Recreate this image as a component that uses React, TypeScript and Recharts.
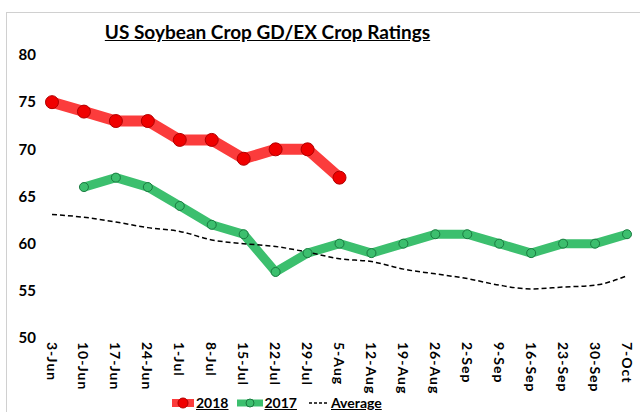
import React from "react";
import { Line, LineChart, XAxis, YAxis } from "recharts";

const weeks = [
  "3-Jun", "10-Jun", "17-Jun", "24-Jun", "1-Jul", "8-Jul", "15-Jul", "22-Jul", "29-Jul", "5-Aug",
  "12-Aug", "19-Aug", "26-Aug", "2-Sep", "9-Sep", "16-Sep", "23-Sep", "30-Sep", "7-Oct",
];
const ratings2018 = [75, 74, 73, 73, 71, 71, 69, 70, 70, 67, null, null, null, null, null, null, null, null, null];
const ratings2017 = [null, 66, 67, 66, 64, 62, 61, 57, 59, 60, 59, 60, 61, 61, 60, 59, 60, 60, 61];
const averageRatings = [
  63.1, 62.8, 62.3, 61.7, 61.3, 60.4, 60.0, 59.7, 59.1, 58.4,
  58.1, 57.3, 56.8, 56.3, 55.6, 55.2, 55.4, 55.6, 56.6,
];
const yTicks = [50, 55, 60, 65, 70, 75, 80];

const data = weeks.map((week, i) => ({
  week,
  r2018: ratings2018[i],
  r2017: ratings2017[i],
  avg: averageRatings[i],
}));

const FONT = "Lato, 'Open Sans', sans-serif";

const WeekTick = ({ x, y, payload }: any) => (
  <g transform={`translate(${x},${y})`}>
    <text
      transform="rotate(90)"
      x={-4}
      y={0}
      textAnchor="start"
      dominantBaseline="central"
      fontFamily={FONT}
      fontWeight="bold"
      fontSize={14}
      letterSpacing={1}
      fill="#000"
    >
      {payload.value}
    </text>
  </g>
);

const LegendRow = () => (
  <div
    style={{
      position: "absolute",
      left: 170,
      top: 394,
      display: "flex",
      alignItems: "center",
      fontFamily: FONT,
      fontWeight: "bold",
      fontSize: 14,
      color: "#000",
    }}
  >
    <svg width={26} height={16}>
      <line x1={2} y1={8} x2={24} y2={8} stroke="#fb3c3c" strokeWidth={8} />
      <circle cx={13} cy={8} r={5} fill="#f00000" stroke="#b00000" />
    </svg>
    <span style={{ textDecoration: "underline", marginRight: 8 }}>2018</span>
    <svg width={28} height={16}>
      <line x1={1} y1={8} x2={27} y2={8} stroke="#3cbf6e" strokeWidth={7} />
      <circle cx={14} cy={8} r={4} fill="#3cbf6e" stroke="#1a7a40" />
    </svg>
    <span style={{ textDecoration: "underline", marginRight: 12 }}>2017</span>
    <svg width={20} height={16}>
      <line x1={0} y1={8} x2={19} y2={8} stroke="#000" strokeWidth={1.5} strokeDasharray="3 2" />
    </svg>
    <span style={{ textDecoration: "underline", marginLeft: 2 }}>Average</span>
  </div>
);

export default function App() {
  return (
    <div style={{ position: "absolute", left: 0, top: 0, width: 640, height: 412, background: "#fff", overflow: "hidden" }}>
      <div
        style={{
          position: "absolute",
          left: 6,
          top: 12,
          width: 700,
          height: 500,
          border: "1px solid #d0d0d0",
        }}
      />
      <div
        style={{
          position: "absolute",
          left: 0,
          width: 535,
          top: 20,
          textAlign: "center",
          fontFamily: FONT,
          fontWeight: "bold",
          fontSize: 19,
          textDecoration: "underline",
          color: "#000",
        }}
      >
        US Soybean Crop GD/EX Crop Ratings
      </div>
      <div style={{ position: "absolute", left: 0, top: 0 }}>
        <LineChart width={640} height={412} data={data} margin={{ top: 55, right: 5, bottom: 0, left: 0 }}>
          <XAxis
            dataKey="week"
            axisLine={false}
            tickLine={false}
            interval={0}
            height={74}
            padding={{ left: 12, right: 8 }}
            tick={<WeekTick />}
          />
          <YAxis
            domain={[50, 80]}
            ticks={yTicks}
            width={40}
            axisLine={false}
            tickLine={false}
            tickSize={4}
            tickMargin={0}
            tick={{ fontFamily: FONT, fontWeight: "bold", fontSize: 15, fill: "#000" }}
          />
          <Line
            dataKey="r2017"
            type="linear"
            stroke="#3cbf6e"
            strokeWidth={9}
            strokeLinejoin="round"
            dot={{ r: 4.5, fill: "#3cbf6e", stroke: "#1a7a40", strokeWidth: 1 }}
            isAnimationActive={false}
          />
          <Line
            dataKey="avg"
            type="monotone"
            stroke="#000"
            strokeWidth={1.5}
            strokeDasharray="5 3"
            dot={false}
            isAnimationActive={false}
          />
          <Line
            dataKey="r2018"
            type="linear"
            stroke="#fb3c3c"
            strokeWidth={11}
            strokeLinejoin="round"
            dot={{ r: 6.5, fill: "#f00000", stroke: "#b00000", strokeWidth: 1 }}
            isAnimationActive={false}
          />
        </LineChart>
      </div>
      <LegendRow />
    </div>
  );
}
